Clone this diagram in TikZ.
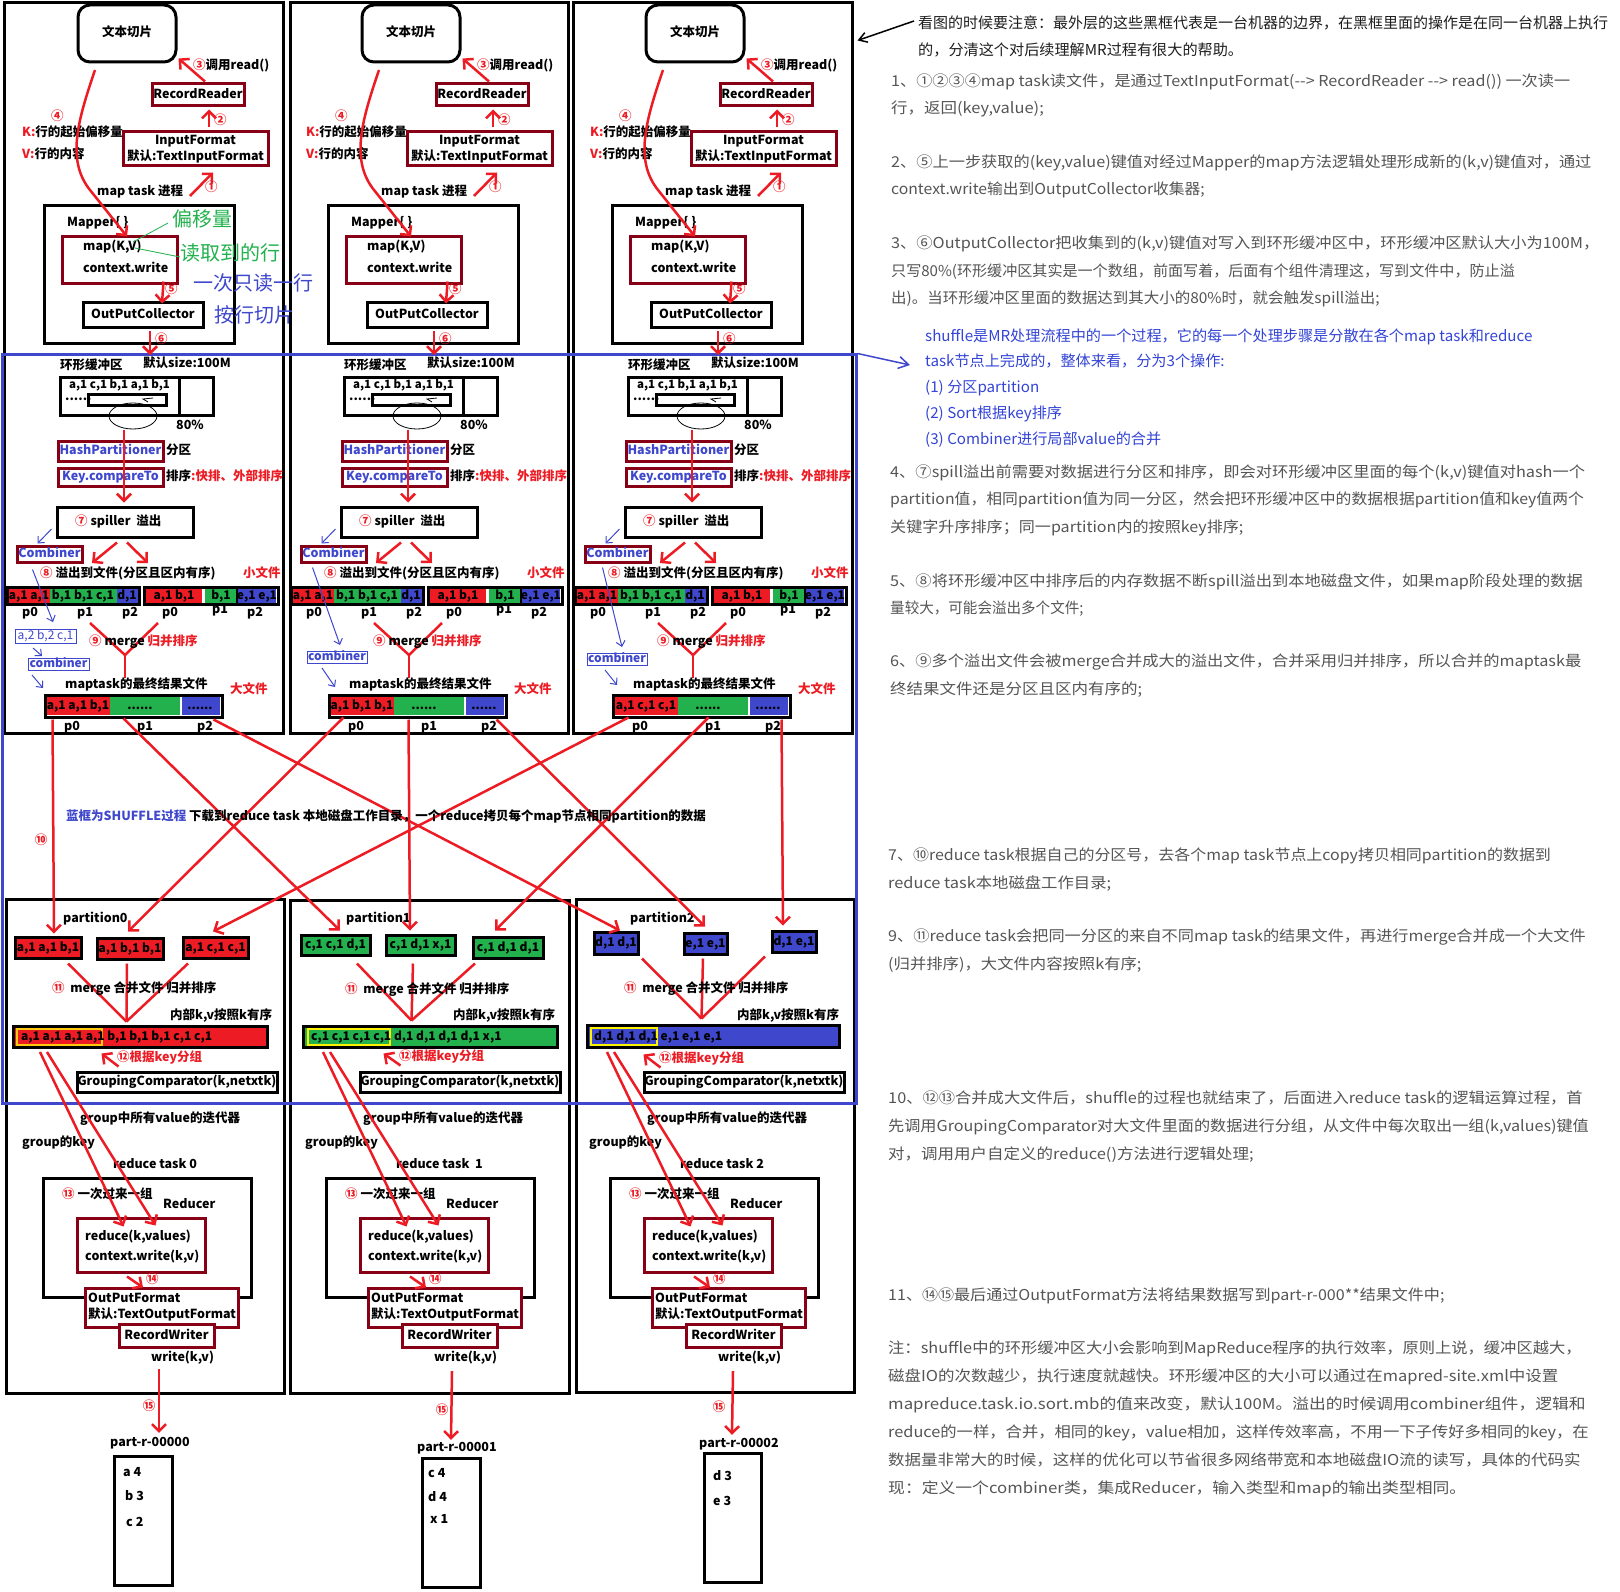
\documentclass[tikz,border=0pt]{standalone}
\usepackage{fontspec}
\usepackage{graphicx}
\setmainfont{Noto Sans CJK SC}
\usetikzlibrary{arrows.meta,fit,calc}
\definecolor{pred}{HTML}{ED1C24}
\definecolor{pmar}{HTML}{880015}
\definecolor{pgrn}{HTML}{22B14C}
\definecolor{pblu}{HTML}{3F48CC}
\definecolor{pyel}{HTML}{FFF200}
\definecolor{porg}{HTML}{FFC90E}
\definecolor{gtxt}{HTML}{555555}
\definecolor{dtxt}{HTML}{1E1E1E}
\definecolor{ntxt}{HTML}{3344D6}
\newcommand\rd[1]{\textcolor{pred}{#1}}
\newcommand\ebox[6][]{\node[bxs,fit={(#3,#4)(#5,#6)},#1] (#2) {};}
\newcommand\tbox[8][]{\node[bxs,fit={(#3,#4)(#5,#6)},#1] (#2) {};\node[tx,ctr,#7] (#2t) at (#2.center) {#8};}
\newcommand\mytxt[5][]{\node[tx,#1] (#2) at (#3,#4) {#5};}
\newcommand\mysd[6][]{\node[side,#1] (#2) at (#3,#4+3) {\scalebox{#5}[1]{#6}};}
\tikzset{
 bxs/.style={inner sep=0pt,line width=3pt},
 tx/.style={inner sep=0pt,anchor=west,text height=.85em,text depth=.15em,font=\bfseries\fontsize{12.5}{15}\selectfont},
 ctr/.style={anchor=center},
 dat/.style={font=\bfseries\fontsize{12}{14}\selectfont},
 big/.style={font=\fontsize{20}{20}\selectfont},
 rarr/.style={draw=pred,line width=2.5pt,-{Straight Barb[length=7pt,width=14pt]}},
 rln/.style={draw=pred,line width=2.5pt},
 barr/.style={draw=pblu,line width=1pt,-{Straight Barb[length=5pt,width=9pt]}},
 side/.style={inner sep=0pt,anchor=west,text height=.85em,text depth=.15em,font=\fontsize{15}{15}\selectfont,text=gtxt},
 thinb/.style={draw=pblu,line width=1pt},
 thint/.style={text=pblu,font=\fontsize{12}{14}\selectfont},
 thintb/.style={text=pblu,font=\bfseries\fontsize{12}{14}\selectfont},
}
% ---------- map column ----------
\newcommand\mapcol[3]{%
\tbox[draw=black,rounded corners=12pt]{tb#1}{#2+78}{5}{#2+176}{62}{}{文本切片}
\tbox[draw=pmar]{rr#1}{#2+152}{84}{#2+244}{106}{}{RecordReader}
\ebox[draw=pmar]{if#1}{#2+123}{132}{#2+268}{166}
\mytxt[ctr]{ifa#1}{#2+195.5}{141}{InputFormat}
\mytxt[ctr]{ifb#1}{#2+195.5}{157}{默认:TextInputFormat}
\ebox[draw=black]{mp#1}{#2+44}{205}{#2+234}{343}
\ebox[draw=pmar]{mk#1}{#2+62}{236}{#2+177}{283}
\tbox[draw=black]{oc#1}{#2+83}{302}{#2+203}{327}{}{OutPutCollector}
\mytxt{ca#1}{#2+193}{66}{\rd{③}调用read()}
\mytxt{cb#1}{#2+214}{121}{\rd{②}}
\mytxt{cc#1}{#2+205}{188}{\rd{①}}
\mytxt{mt#1}{#2+97}{192}{map task 进程}
\mytxt{cd#1}{#2+51}{117}{\rd{④}}
\mytxt{kk#1}{#2+22}{133}{\rd{K:}行的起始偏移量}
\mytxt{vv#1}{#2+22}{155}{\rd{V:}行的内容}
\mytxt{mpt#1}{#2+67}{223}{Mapper\{ \}}
\mytxt{mkt#1}{#2+83}{247}{map(K,V)}
\mytxt{cw#1}{#2+83}{269}{context.write}
\mytxt{ce#1}{#2+165}{290}{\rd{⑤}}
\mytxt{cf#1}{#2+155}{340}{\rd{⑥}}
\draw[rarr] ($(rr#1.north)+(7,-1)$) -- ($(tb#1.south east)+(1,-5)$);
\draw[rarr] ($(if#1.north)+(13.5,-3)$) -- ($(rr#1.south)+(11,2)$);
\draw[rarr] (#2+190,196) -- ($(if#1.south)+(17.5,5)$);
\draw[rarr] (#2+95,70) .. controls (#2+78,120) and (#2+66,160) .. (#2+90,190) -- ($(mk#1.north)+(7.5,2)$);
\draw[rarr] ($(mk#1.south east)+(-15,-3)$) -- ($(oc#1.north)+(19,3)$);
\draw[rarr] ($(oc#1.south)+(7,2)$) -- (#2+150,355);
\mytxt{hb#1}{#2+60}{366}{环形缓冲区}
\mytxt{ds#1}{#2+143}{364}{默认size:100M}
\ebox[draw=black]{bf#1}{#2+60}{377}{#2+213}{415}
\draw[line width=3pt] (#2+179,377) -- (#2+179,415);
\mytxt[font=\bfseries\fontsize{11.5}{14}\selectfont]{bd#1}{#2+69}{385}{a,1 c,1 b,1 a,1 b,1}
\mytxt{bt#1}{#2+65}{397}{......}
\ebox[draw=black]{bi#1}{#2+88}{394}{#2+166}{405}
\draw[line width=.8pt] (#2+133,416) ellipse [x radius=24,y radius=13];
\draw[line width=.8pt] (#2+153,398) -- (#2+143,399) -- (#2+148,402);
\mytxt{pc#1}{#2+176}{426}{80\%}
\tbox[draw=pmar]{hp#1}{#2+58}{441}{#2+163}{461}{text=pblu}{HashPartitioner}
\mytxt{fq#1}{#2+166}{451}{分区}
\tbox[draw=pmar]{kc#1}{#2+58}{468}{#2+163}{486}{text=pblu}{Key.compareTo}
\mytxt{px#1}{#2+166}{477}{排序\rd{:快排、外部排序}}
\ebox[draw=black]{sp#1}{#2+57}{507}{#2+193}{537}
\mytxt{spt#1}{#2+75}{522}{\rd{⑦} spiller\ \ 溢出}
\draw[rarr] (#2+124,430) -- ($(sp#1.north)+(-1,-3)$);
\draw[rarr] ($(sp#1.south)+(-8,4)$) -- (#2+92,563);
\draw[rarr] ($(sp#1.south)+(2,4)$) -- (#2+148,563);
\tbox[draw=pmar]{cm#1}{#2+17}{546}{#2+82}{562}{text=pblu}{Combiner}
\draw[barr] ($(sp#1.west)+(-4,7)$) -- ($(cm#1.north)+(-12,-1)$);
\mytxt{ch#1}{#2+40}{574}{\rd{⑧} 溢出到文件(分区且区内有序)}
\mytxt{sm#1}{#2+243}{574}{\rd{小文件}}
\fill[pred] (#2+7,587) rectangle (#2+50,604);
\fill[pgrn] (#2+50,587) rectangle (#2+117,604);
\fill[pblu] (#2+117,587) rectangle (#2+139,604);
\ebox[draw=black]{sa#1}{#2+7}{587}{#2+139}{604}
\fill[pred] (#2+146,588) rectangle (#2+202,603);
\fill[pgrn] (#2+205,588) rectangle (#2+236,603);
\fill[pblu] (#2+238,588) rectangle (#2+276,603);
\ebox[draw=black]{sb#1}{#2+144}{587}{#2+278}{604}
\draw[line width=2pt] (#2+237,587) -- (#2+237,604);
\mytxt[ctr,dat]{d1#1}{#2+29}{595.5}{a,1 a,1}
\mytxt[ctr,dat]{d2#1}{#2+83}{595.5}{b,1 b,1 c,1}
\mytxt[ctr,dat]{d3#1}{#2+127}{595.5}{d,1}
\mytxt[ctr,dat]{d4#1}{#2+174}{595.5}{a,1 b,1}
\mytxt[ctr,dat]{d5#1}{#2+221}{595.5}{b,1}
\mytxt[ctr,dat]{d6#1}{#2+257}{595.5}{e,1 e,1}
\mytxt[ctr]{lpa#1}{#2+30}{613}{p0}
\mytxt[ctr]{lpb#1}{#2+85}{613}{p1}
\mytxt[ctr]{lpc#1}{#2+130}{613}{p2}
\mytxt[ctr]{lpd#1}{#2+170}{613}{p0}
\mytxt[ctr]{lpe#1}{#2+220}{610}{p1}
\mytxt[ctr]{lpf#1}{#2+255}{613}{p2}
\draw[rln] (#2+90,623) -- (#2+125,655) -- (#2+158,623);
\draw[rln] (#2+125,655) -- (#2+125,678);
\mytxt{cn#1}{#2+89}{642}{\rd{⑨} merge \rd{归并排序}}
\mytxt{mf#1}{#2+65}{685}{maptask的最终结果文件}
\mytxt{bg#1}{#2+230}{690}{\rd{大文件}}
\fill[pred] (#2+47,697) rectangle (#2+110,715);
\fill[pgrn] (#2+110,697) rectangle (#2+180,715);
\fill[pblu] (#2+182,697) rectangle (#2+220,715);
\ebox[draw=black]{ff#1}{#2+45}{695}{#2+222}{717}
\mytxt[ctr,dat]{f1#1}{#2+78}{706}{#3}
\mytxt[ctr,dat]{f2#1}{#2+140}{706}{......}
\mytxt[ctr,dat]{f3#1}{#2+200}{706}{......}
\mytxt[ctr]{q0#1}{#2+72}{727}{p0}
\mytxt[ctr]{q1#1}{#2+145}{727}{p1}
\mytxt[ctr]{q2#1}{#2+205}{727}{p2}
}
% ---------- reduce column ----------
\newcommand\redcol[4]{%
\mytxt{ptl#1}{#2+63}{919}{#3}
\mytxt{ib#1}{#2+170}{1016}{内部k,v按照k有序}
\tbox[draw=black]{gc#1}{#2+77}{1072}{#2+277}{1092}{}{GroupingComparator(k,netxtk)}
\mytxt{gi#1}{#2+80}{1119}{group中所有value的迭代器}
\mytxt{gk#1}{#2+22}{1143}{group的key}
\mytxt{rt#1}{#2+113}{1165}{reduce task #4}
\ebox[draw=black]{rb#1}{#2+43}{1178}{#2+251}{1297}
\mytxt{c13#1}{#2+62}{1195}{\rd{⑬} 一次过来一组}
\mytxt{rd#1}{#2+163}{1205}{Reducer}
\ebox[draw=pmar]{rk#1}{#2+77}{1218}{#2+205}{1272}
\mytxt{rkt#1}{#2+85}{1237}{reduce(k,values)}
\mytxt{rkw#1}{#2+85}{1257}{context.write(k,v)}
\ebox[draw=pmar,fill=white]{of#1}{#2+85}{1288}{#2+238}{1327}
\mytxt{oft#1}{#2+88}{1299}{OutPutFormat}
\mytxt{ofd#1}{#2+88}{1315}{默认:TextOutputFormat}
\tbox[draw=pmar,fill=white]{rw#1}{#2+119}{1324}{#2+214}{1347}{}{RecordWriter}
\mytxt{wk#1}{#2+151}{1358}{write(k,v)}
\draw[rarr] ($(rk#1.south)+(-14,3)$) -- ($(of#1.north)+(-18.5,1)$);
\mytxt{c14#1}{#2+146}{1280}{\rd{⑭}}
\draw[rarr] (#2+40,1052) -- ($(rk#1.north west)+(48,10)$);
\draw[rarr] (#2+47,1052) -- ($(rk#1.north west)+(80,9)$);
}
\begin{document}
\begin{tikzpicture}[x=1pt,y=-1pt]
\fill[white] (0,0) rectangle (1620,1592);
\useasboundingbox (0,0) rectangle (1620,1592);
% machine boxes
\ebox[draw=black]{m1}{4}{3}{283}{733}
\ebox[draw=black]{m2}{290}{3}{568}{733}
\ebox[draw=black]{m3}{573}{3}{852}{733}
\ebox[draw=black]{n1}{6}{899}{284}{1393}
\ebox[draw=black]{n2}{290}{900}{569}{1393}
\ebox[draw=black]{n3}{576}{899}{854}{1392}
\ebox[draw=pblu]{sh}{2}{354}{856}{1103}
% map columns
\mapcol{1}{0}{a,1 a,1 b,1}
\mapcol{2}{284}{a,1 b,1 b,1}
\mapcol{3}{568}{a,1 c,1 c,1}
% column 1 annotations
\mytxt[big,text=pgrn]{gy}{172}{223}{偏移量}
\mytxt[big,text=pgrn]{gd}{180}{257}{读取到的行}
\mytxt[big,text=pblu]{yc}{193}{287}{一次只读一行}
\mytxt[big,text=pblu]{ah}{214}{319}{按行切片}
\draw[pgrn,line width=.8pt] ($(gy.west)+(-4,0)$) -- (133,242);
\draw[pgrn,line width=.8pt] (135,248) -- (gd.west);
% combiners
\draw[barr] ($(cm1.south)+(-17,6)$) -- (53,622);
\tbox[thinb]{ab1}{15}{629}{76}{643}{thint}{a,2 b,2 c,1}
\draw[barr] (33,648) -- (42,656);
\tbox[thinb]{cbb1}{28}{658}{89}{670}{thintb}{combiner}
\draw[barr] (32,675) -- (43,688);
\draw[barr] ($(cm2.south)+(-21,4)$) -- (340,645);
\tbox[thinb]{cbb2}{307}{651}{367}{663}{thintb}{combiner}
\draw[barr] (322,668) -- (335,687);
\draw[barr] ($(cm3.south)+(-15,4)$) -- (622,647);
\tbox[thinb]{cbb3}{587}{653}{647}{665}{thintb}{combiner}
\draw[barr] (605,670) -- (617,685);
% reduce columns common
\redcol{1}{0}{partition0}{0}
\redcol{2}{283}{partition1}{\ 1}
\redcol{3}{567}{partition2}{2}
% column 1 reduce specifics
\tbox[draw=black,fill=pred]{xa1}{15}{937}{81}{958}{dat}{a,1 a,1 b,1}
\tbox[draw=black,fill=pred]{xb1}{97}{938}{163}{959}{dat}{a,1 b,1 b,1}
\tbox[draw=black,fill=pred]{xc1}{183}{937}{248}{958}{dat}{a,1 c,1 c,1}
\ebox[draw=black,fill=pred]{mg1}{13}{1026}{267}{1047}
\draw[porg,line width=2pt] (17,1029) rectangle (102,1045);
\mytxt[dat]{mgt1}{21}{1037}{a,1 a,1 a,1 a,1 b,1 b,1 b,1 c,1 c,1}
\draw[rln] ($(xa1.south)+(20,4)$) -- ($(mg1.north west)+(115,-3)$);
\draw[rln] ($(xb1.south)+(-3,3)$) -- ($(mg1.north west)+(115,-3)$);
\draw[rln] ($(xc1.south)+(-27.5,4)$) -- ($(mg1.north west)+(115,-3)$);
\mytxt{e11a}{52}{989}{\rd{⑪}\ \ merge 合并文件 归并排序}
\mytxt{k12a}{117}{1058}{\rd{⑫根据key分组}}
\draw[rarr] ($(gc1.north west)+(43,-4)$) -- ($(mg1.south west)+(90,5)$);
\mytxt[ctr]{c15a}{149}{1407}{\rd{⑮}}
\mytxt{pr1}{110}{1443}{part-r-00000}
\draw[rarr] ($(wk1.south west)+(8,6)$) -- ($(pr1.north west)+(49,-5)$);
\ebox[draw=black]{ob1}{114}{1456}{172}{1585}
\mytxt{o1a}{123}{1473}{a 4}
\mytxt{o1b}{125}{1497}{b 3}
\mytxt{o1c}{126}{1523}{c 2}
% column 2 reduce specifics
\tbox[draw=black,fill=pgrn]{xa2}{301}{935}{370}{955}{dat}{c,1 c,1 d,1}
\tbox[draw=black,fill=pgrn]{xb2}{386}{935}{455}{955}{dat}{c,1 d,1 x,1}
\tbox[draw=black,fill=pgrn]{xc2}{473}{937}{543}{958}{dat}{c,1 d,1 d,1}
\ebox[draw=black,fill=pgrn]{mg2}{303}{1026}{557}{1047}
\draw[pyel,line width=2pt] (308,1029) rectangle (390,1045);
\mytxt[dat]{mgt2}{311}{1037}{c,1 c,1 c,1 c,1 d,1 d,1 d,1 d,1 x,1}
\draw[rln] ($(xa2.south)+(21.5,7)$) -- ($(mg2.north west)+(110,-4)$);
\draw[rln] ($(xb2.south)+(-7.5,7)$) -- ($(mg2.north west)+(110,-4)$);
\draw[rln] ($(xc2.south)+(-33,4)$) -- ($(mg2.north west)+(110,-4)$);
\mytxt{e11b}{345}{990}{\rd{⑪}\ \ merge 合并文件 归并排序}
\mytxt{k12b}{399}{1057}{\rd{⑫根据key分组}}
\draw[rarr] ($(gc2.north west)+(42,-5)$) -- ($(mg2.south west)+(82,5)$);
\mytxt[ctr]{c15b}{442}{1411}{\rd{⑮}}
\mytxt{pr2}{417}{1448}{part-r-00001}
\draw[rarr] ($(wk2.south west)+(18,8)$) -- ($(pr2.north west)+(34,-3)$);
\ebox[draw=black]{ob2}{422}{1458}{480}{1587}
\mytxt{o2a}{428}{1474}{c 4}
\mytxt{o2b}{428}{1498}{d 4}
\mytxt{o2c}{430}{1520}{x 1}
% column 3 reduce specifics
\tbox[draw=black,fill=pblu]{xa3}{594}{932}{638}{954}{dat}{d,1 d,1}
\tbox[draw=black,fill=pblu]{xb3}{684}{933}{727}{954}{dat}{e,1 e,1}
\tbox[draw=black,fill=pblu]{xc3}{772}{931}{816}{952}{dat}{d,1 e,1}
\ebox[draw=black,fill=pblu]{mg3}{587}{1025}{839}{1047}
\draw[pyel,line width=2pt] (591,1028) rectangle (657,1045);
\mytxt[dat]{mgt3}{594}{1037}{d,1 d,1 d,1 e,1 e,1 e,1}
\draw[rln] ($(xa3.south)+(26,3)$) -- ($(mg3.north west)+(116,-5)$);
\draw[rln] ($(xb3.south)+(-2.5,3)$) -- ($(mg3.north west)+(116,-5)$);
\draw[rln] ($(xc3.south)+(-29,3)$) -- ($(mg3.north west)+(116,-5)$);
\mytxt{e11c}{624}{989}{\rd{⑪}\ \ merge 合并文件 归并排序}
\mytxt{k12c}{659}{1059}{\rd{⑫根据key分组}}
\draw[rarr] ($(gc3.north west)+(18,-3)$) -- ($(mg3.south west)+(58,6)$);
\mytxt[ctr]{c15c}{719}{1408}{\rd{⑮}}
\mytxt{pr3}{699}{1444}{part-r-00002}
\draw[rarr] ($(wk3.south west)+(15,8)$) -- ($(pr3.north west)+(33,-4)$);
\ebox[draw=black]{ob3}{704}{1453}{761}{1582}
\mytxt{o3a}{713}{1477}{d 3}
\mytxt{o3b}{713}{1502}{e 3}
% shuffle lines
\draw[rarr] ($(ff1.south west)+(9,1)$) -- ($(xa1.north)+(6,-2)$);
\draw[rarr] ($(ff1.south west)+(80,0)$) -- ($(xa2.north)+(4.5,-3)$);
\draw[rarr] ($(ff1.south west)+(170,1)$) -- ($(xa3.north)+(4,0)$);
\draw[rarr] ($(ff2.south west)+(16,-1)$) -- ($(xb1.north)+(-2,-5)$);
\draw[rarr] ($(ff2.south west)+(81,1)$) -- ($(xb2.north)+(-10.5,-3)$);
\draw[rarr] ($(ff2.south west)+(169,1)$) -- ($(xb3.north)+(-0.5,-5)$);
\draw[rarr] ($(ff3.south west)+(17,-1)$) -- ($(xc1.north)+(-2.5,-4)$);
\draw[rarr] ($(ff3.south west)+(97,-1)$) -- ($(xc2.north)+(-13,-5)$);
\draw[rarr] ($(ff3.south west)+(170,1)$) -- ($(xc3.north)+(-11,-4)$);
\mytxt[text=pblu]{shl}{66}{817}{蓝框为SHUFFLE过程}
\mytxt{dlt}{189}{817}{下载到reduce task 本地磁盘工作目录，一个reduce拷贝每个map节点相同partition的数据}
\mytxt[ctr]{c10}{41}{841}{\rd{⑩}}
% right-hand text
\mysd[text=dtxt]{r0a}{918}{22}{1}{看图的时候要注意：最外层的这些黑框代表是一台机器的边界，在黑框里面的操作是在同一台机器上执行}
\mysd[text=dtxt]{r0b}{918}{49}{1.01}{的，分清这个对后续理解MR过程有很大的帮助。}
\draw[line width=1.5pt,-{Straight Barb[length=8pt,width=10pt]}] ($(r0a.west)+(-4,-4)$) -- ($(m3.north east)+(4,39)$);
\mysd{r1a}{891}{80}{1.077}{1、①②③④map task读文件，是通过TextInputFormat({-}{-}> RecordReader {-}{-}> read()) 一次读一}
\mysd{r1b}{891}{107}{1.097}{行，返回(key,value);}
\mysd{r2a}{891}{161}{1.08}{2、⑤上一步获取的(key,value)键值对经过Mapper的map方法逻辑处理形成新的(k,v)键值对，通过}
\mysd{r2b}{891}{188}{1.049}{context.write输出到OutputCollector收集器;}
\mysd{r3a}{891}{242}{1.083}{3、⑥OutputCollector把收集到的(k,v)键值对写入到环形缓冲区中，环形缓冲区默认大小为100M，}
\mysd{r3b}{891}{270}{1.005}{只写80\%(环形缓冲区其实是一个数组，前面写着，后面有个组件清理这，写到文件中，防止溢}
\mysd{r3c}{891}{297}{1.031}{出)。当环形缓冲区里面的数据达到其大小的80\%时，就会触发spill溢出;}
\mysd[text=ntxt]{bl1}{925}{335}{1.01}{shuffle是MR处理流程中的一个过程，它的每一个处理步骤是分散在各个map task和reduce}
\mysd[text=ntxt]{bl2}{925}{360}{1.01}{task节点上完成的，整体来看，分为3个操作:}
\mysd[text=ntxt]{bl3}{925}{386}{1.01}{(1) 分区partition}
\mysd[text=ntxt]{bl4}{925}{412}{1.01}{(2) Sort根据key排序}
\mysd[text=ntxt]{bl5}{925}{438}{1.01}{(3) Combiner进行局部value的合并}
\draw[pblu,line width=1.5pt,-{Straight Barb[length=10pt,width=12pt]}] ($(sh.north east)+(0,1)$) -- ($(bl2.west)+(-15,2)$);
\mysd{r4a}{890}{471}{1.084}{4、⑦spill溢出前需要对数据进行分区和排序，即会对环形缓冲区里面的每个(k,v)键值对hash一个}
\mysd{r4b}{890}{498}{1.055}{partition值，相同partition值为同一分区，然会把环形缓冲区中的数据根据partition值和key值两个}
\mysd{r4c}{890}{526}{1.072}{关键字升序排序；同一partition内的按照key排序;}
\mysd{r5a}{890}{580}{1.084}{5、⑧将环形缓冲区中排序后的内存数据不断spill溢出到本地磁盘文件，如果map阶段处理的数据}
\mysd{r5b}{890}{607}{0.97}{量较大，可能会溢出多个文件;}
\mysd{r6a}{890}{660}{1.083}{6、⑨多个溢出文件会被merge合并成大的溢出文件，合并采用归并排序，所以合并的maptask最}
\mysd{r6b}{890}{688}{1.1}{终结果文件还是分区且区内有序的;}
\mysd{r7a}{888}{854}{1.065}{7、⑩reduce task根据自己的分区号，去各个map task节点上copy拷贝相同partition的数据到}
\mysd{r7b}{888}{882}{1.09}{reduce task本地磁盘工作目录;}
\mysd{r9a}{888}{935}{1.078}{9、⑪reduce task会把同一分区的来自不同map task的结果文件，再进行merge合并成一个大文件}
\mysd{r9b}{888}{963}{1.089}{(归并排序)，大文件内容按照k有序;}
\mysd{rAa}{888}{1097}{1.086}{10、⑫⑬合并成大文件后，shuffle的过程也就结束了，后面进入reduce task的逻辑运算过程，首}
\mysd{rAb}{888}{1125}{1.076}{先调用GroupingComparator对大文件里面的数据进行分组，从文件中每次取出一组(k,values)键值}
\mysd{rAc}{888}{1153}{1.1}{对，调用用户自定义的reduce()方法进行逻辑处理;}
\mysd{rBa}{888}{1294}{1.07}{11、⑭⑮最后通过OutputFormat方法将结果数据写到part-r-000**结果文件中;}
\mysd{rCa}{888}{1347}{1.085}{注：shuffle中的环形缓冲区大小会影响到MapReduce程序的执行效率，原则上说，缓冲区越大，}
\mysd{rCb}{888}{1375}{1.098}{磁盘IO的次数越少，执行速度就越快。环形缓冲区的大小可以通过在mapred-site.xml中设置}
\mysd{rCc}{888}{1403}{1.12}{mapreduce.task.io.sort.mb的值来改变，默认100M。溢出的时候调用combiner组件，逻辑和}
\mysd{rCd}{888}{1431}{1.088}{reduce的一样，合并，相同的key，value相加，这样传效率高，不用一下子传好多相同的key，在}
\mysd{rCe}{888}{1459}{1.098}{数据量非常大的时候，这样的优化可以节省很多网络带宽和本地磁盘IO流的读写，具体的代码实}
\mysd{rCf}{888}{1487}{1.12}{现：定义一个combiner类，集成Reducer，输入类型和map的输出类型相同。}
\end{tikzpicture}
\end{document}
